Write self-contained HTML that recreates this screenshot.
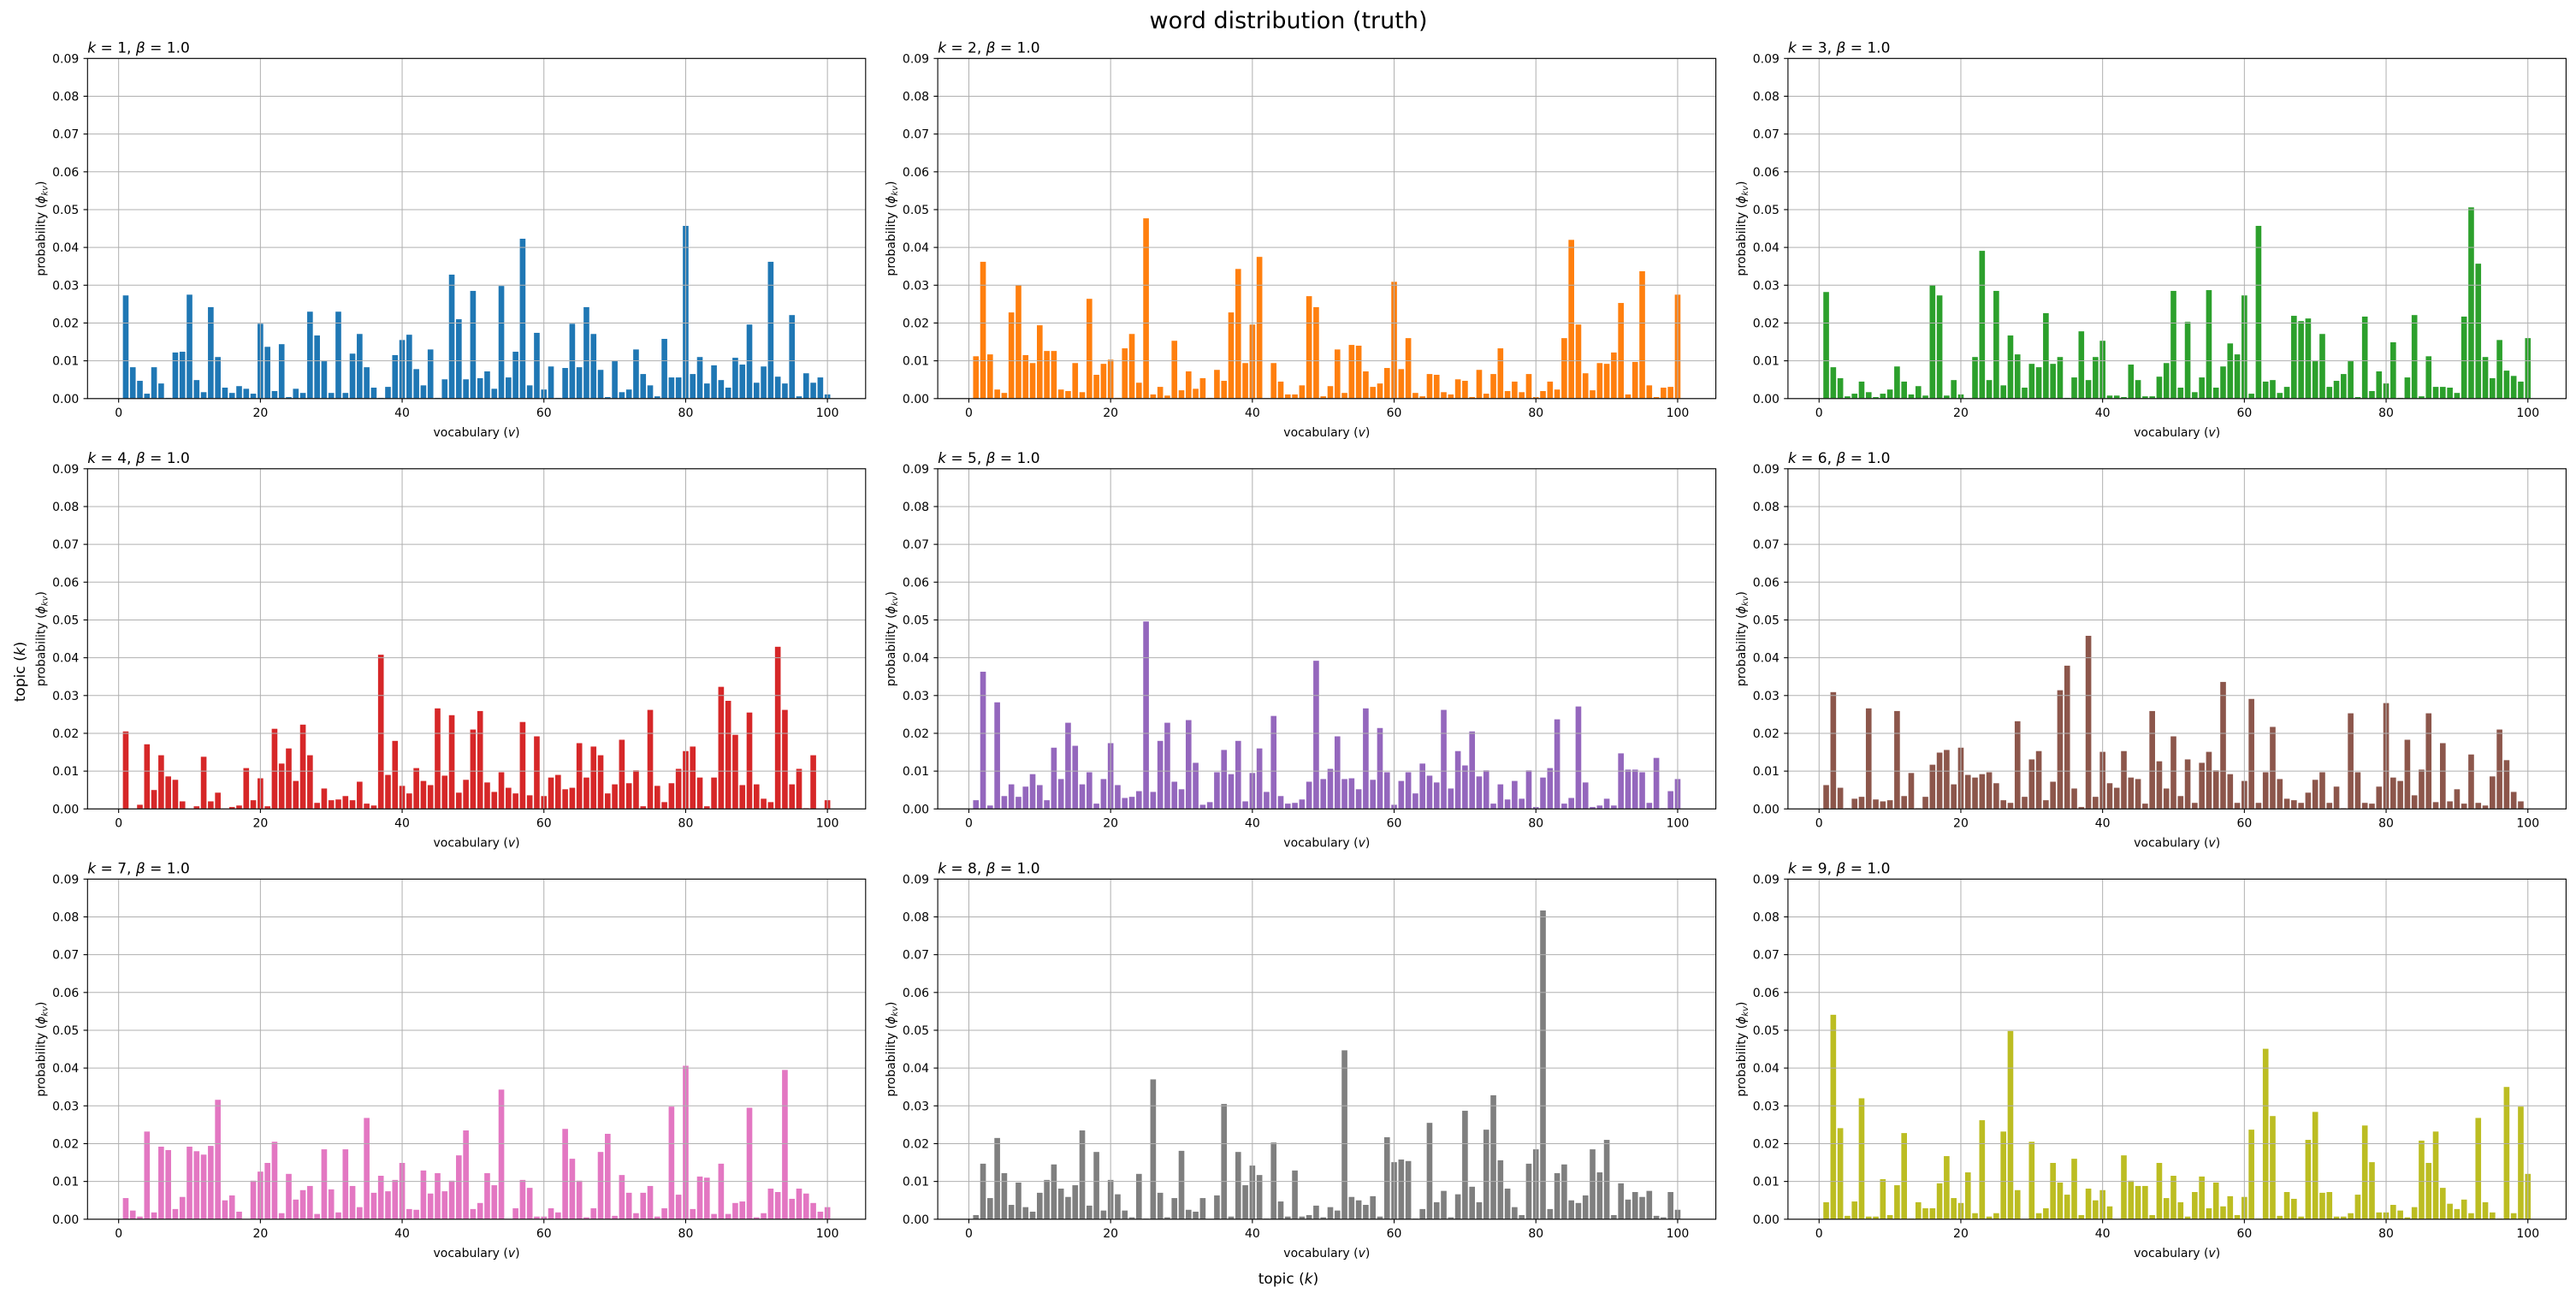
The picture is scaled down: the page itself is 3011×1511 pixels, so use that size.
<!DOCTYPE html>
<html>
<head>
<meta charset="utf-8">
<style>
html,body{margin:0;padding:0;background:#fff;}
svg{display:block;font-family:"DejaVu Sans","Liberation Sans",sans-serif;}
</style>
</head>
<body>
<svg id="fig" width="3011" height="1511" viewBox="0 0 3011 1511" xmlns="http://www.w3.org/2000/svg">
<rect x="0" y="0" width="3011" height="1511" fill="#ffffff"/>
<text x="1506" y="33" font-size="27" text-anchor="middle" fill="#000">word distribution (truth)</text>
<text x="1506" y="1500" font-size="17" text-anchor="middle" fill="#000">topic (<tspan font-style="italic">k</tspan>)</text>
<text x="0" y="0" font-size="17" text-anchor="middle" fill="#000" transform="translate(29,785) rotate(-90)">topic (<tspan font-style="italic">k</tspan>)</text>
<g id="panels"></g>
</svg>
<script>
const vocab = Array.from({length:100},(_,i)=>i+1);
const yTicks = [0,0.01,0.02,0.03,0.04,0.05,0.06,0.07,0.08,0.09];
const yTickLabels = ["0.00","0.01","0.02","0.03","0.04","0.05","0.06","0.07","0.08","0.09"];
const xTicks = [0,20,40,60,80,100];
const xTickLabels = ["0","20","40","60","80","100"];
const topicIds = [1,2,3,4,5,6,7,8,9];
const betaLabel = "1.0";
const colors = ["#1f77b4","#ff7f0e","#2ca02c","#d62728","#9467bd","#8c564b","#e377c2","#7f7f7f","#bcbd22"];

const p1 = [0.0273,0.0083,0.0047,0.0013,0.0083,0.004,0.0002,0.0122,0.0124,0.0275,0.0049,0.0017,0.0242,0.011,0.0029,0.0015,0.0033,0.0026,0.0013,0.0198,0.0137,0.002,0.0144,0.0004,0.0026,0.0015,0.023,0.0167,0.0099,0.0015,0.023,0.0015,0.0119,0.0171,0.0083,0.0029,0.0002,0.0031,0.0115,0.0155,0.0169,0.0078,0.0035,0.013,0.0002,0.0051,0.0328,0.021,0.0051,0.0285,0.0054,0.0072,0.0026,0.0298,0.0056,0.0124,0.0423,0.0035,0.0174,0.0024,0.0085,0.0002,0.0081,0.0198,0.0083,0.0242,0.0171,0.0076,0.0004,0.0099,0.0017,0.0024,0.013,0.0065,0.0035,0.0006,0.0158,0.0056,0.0056,0.0457,0.0065,0.011,0.004,0.0088,0.0049,0.0029,0.0108,0.009,0.0196,0.0042,0.0085,0.0362,0.0058,0.004,0.0221,0.0006,0.0067,0.0042,0.0056,0.0011];
const p2 = [0.0112,0.0362,0.0117,0.0024,0.0015,0.0228,0.030,0.0115,0.0094,0.0194,0.0126,0.0126,0.0024,0.002,0.0094,0.0017,0.0264,0.0063,0.0092,0.0103,0.0002,0.0133,0.0171,0.0042,0.0477,0.0011,0.0031,0.0008,0.0153,0.0022,0.0072,0.0026,0.0054,0.0002,0.0076,0.0047,0.0228,0.0343,0.0094,0.0196,0.0375,0.0001,0.0094,0.0045,0.0011,0.0011,0.0035,0.0271,0.0242,0.0006,0.0033,0.013,0.0015,0.0142,0.014,0.0072,0.0031,0.004,0.0081,0.0309,0.0078,0.016,0.0015,0.0006,0.0065,0.0063,0.0017,0.0011,0.0051,0.0047,0.0004,0.0076,0.0013,0.0065,0.0133,0.002,0.0045,0.0017,0.0065,0.0004,0.002,0.0045,0.0024,0.016,0.042,0.0196,0.0067,0.0022,0.0094,0.0092,0.0122,0.0253,0.0011,0.0097,0.0337,0.0035,0.0004,0.0029,0.0031,0.0275];
const p3 = [0.0282,0.0083,0.0054,0.0006,0.0013,0.0045,0.0017,0.0004,0.0013,0.0024,0.0085,0.0045,0.0011,0.0033,0.0008,0.030,0.0273,0.0008,0.0049,0.0011,0.0001,0.011,0.0391,0.0049,0.0285,0.0035,0.0167,0.0117,0.0029,0.0092,0.0083,0.0226,0.0092,0.011,0.0002,0.0056,0.0178,0.0049,0.011,0.0153,0.0008,0.0008,0.0004,0.009,0.0049,0.0006,0.0006,0.0058,0.0094,0.0285,0.0029,0.0203,0.0017,0.0056,0.0287,0.0029,0.0085,0.0146,0.0117,0.0273,0.0013,0.0457,0.0045,0.0049,0.0015,0.0031,0.0219,0.0205,0.0212,0.0099,0.0171,0.0031,0.0047,0.0065,0.0099,0.0004,0.0217,0.002,0.0072,0.004,0.0149,0.0002,0.0056,0.0221,0.0006,0.0112,0.0031,0.0031,0.0029,0.0015,0.0217,0.0506,0.0357,0.011,0.0054,0.0155,0.0074,0.006,0.0045,0.016];
const p4 = [0.0205,0.0001,0.0011,0.0171,0.005,0.0142,0.0086,0.0077,0.002,0.0001,0.0007,0.0138,0.002,0.0043,0.0001,0.0005,0.0009,0.0108,0.0023,0.0081,0.0007,0.0212,0.012,0.016,0.0074,0.0223,0.0142,0.0016,0.0054,0.0023,0.0025,0.0034,0.0023,0.0072,0.0014,0.0009,0.0408,0.009,0.018,0.0061,0.0041,0.0108,0.0074,0.0063,0.0266,0.0088,0.0248,0.0043,0.0077,0.021,0.0259,0.007,0.0045,0.0097,0.0056,0.0041,0.023,0.0036,0.0192,0.0034,0.0083,0.009,0.0052,0.0056,0.0174,0.0083,0.0165,0.0142,0.0041,0.0065,0.0183,0.0068,0.0102,0.0007,0.0262,0.0061,0.0018,0.0068,0.0106,0.0153,0.0165,0.0083,0.0007,0.0083,0.0323,0.0286,0.0196,0.0063,0.0255,0.0065,0.0027,0.0018,0.0429,0.0262,0.0065,0.0106,0.0002,0.0142,0.0001,0.0023];
const p5 = [0.0023,0.0363,0.0009,0.0282,0.0034,0.0065,0.0032,0.0059,0.0092,0.0063,0.0023,0.0162,0.0079,0.0228,0.0167,0.0065,0.0097,0.0014,0.0079,0.0174,0.0063,0.0029,0.0032,0.0047,0.0496,0.0045,0.018,0.0228,0.0072,0.0052,0.0235,0.0122,0.0011,0.0018,0.0097,0.0156,0.0092,0.018,0.002,0.0095,0.016,0.0045,0.0246,0.0034,0.0014,0.0016,0.0025,0.0072,0.0392,0.0079,0.0106,0.0192,0.0079,0.0081,0.0052,0.0266,0.0077,0.0214,0.0097,0.0011,0.0074,0.0097,0.0041,0.012,0.0088,0.007,0.0262,0.0054,0.0153,0.0115,0.0205,0.0086,0.0102,0.0014,0.0065,0.0025,0.0074,0.0027,0.0102,0.0005,0.0083,0.0108,0.0237,0.0014,0.0029,0.0271,0.007,0.0005,0.0009,0.0027,0.0009,0.0147,0.0104,0.0104,0.0097,0.0016,0.0135,0.0002,0.0047,0.0079];
const p6 = [0.0063,0.0309,0.0056,0.0002,0.0027,0.0032,0.0266,0.0025,0.002,0.0023,0.0259,0.0034,0.0095,0.0002,0.0032,0.0117,0.0149,0.0156,0.0065,0.0162,0.009,0.0083,0.0092,0.0097,0.0068,0.0023,0.0016,0.0232,0.0032,0.0131,0.0153,0.0023,0.0072,0.0314,0.0379,0.0054,0.0005,0.0458,0.0032,0.0151,0.0068,0.0056,0.0153,0.0083,0.0079,0.0014,0.0259,0.0126,0.0054,0.0192,0.0034,0.0131,0.0016,0.0122,0.0151,0.0102,0.0336,0.0092,0.0016,0.0074,0.0291,0.0016,0.0097,0.0217,0.0079,0.0027,0.0023,0.0016,0.0043,0.0077,0.0097,0.0016,0.0059,0.0002,0.0253,0.0097,0.0016,0.0014,0.0059,0.028,0.0083,0.0074,0.0183,0.0036,0.0104,0.0253,0.0018,0.0174,0.002,0.0052,0.0014,0.0144,0.0016,0.0009,0.0086,0.021,0.0129,0.0045,0.002,0.0001];
const p7 = [0.0056,0.0023,0.0007,0.0232,0.0018,0.0192,0.0183,0.0027,0.0059,0.0192,0.018,0.0171,0.0194,0.0316,0.005,0.0063,0.002,0.0001,0.0102,0.0126,0.0149,0.0205,0.0016,0.012,0.0052,0.0077,0.0088,0.0014,0.0185,0.0079,0.0018,0.0185,0.0088,0.0032,0.0268,0.007,0.0115,0.0074,0.0104,0.0149,0.0027,0.0025,0.0129,0.0068,0.0122,0.0074,0.0102,0.0169,0.0235,0.0027,0.0043,0.0122,0.009,0.0343,0.0001,0.0029,0.0104,0.0083,0.0007,0.0007,0.0029,0.0018,0.0239,0.016,0.0102,0.0005,0.0029,0.0178,0.0226,0.0009,0.0117,0.007,0.0016,0.007,0.0088,0.0007,0.0029,0.0298,0.0065,0.0406,0.0027,0.0113,0.011,0.0014,0.0147,0.0014,0.0043,0.0047,0.0295,0.0005,0.0016,0.0081,0.0072,0.0395,0.0054,0.0081,0.0068,0.0043,0.002,0.0032];
const p8 = [0.0011,0.0147,0.0056,0.0215,0.0122,0.0038,0.0097,0.0032,0.002,0.007,0.0104,0.0145,0.0081,0.0059,0.009,0.0235,0.0036,0.0178,0.0023,0.0104,0.0066,0.0023,0.0005,0.012,0.0002,0.037,0.007,0.0005,0.0056,0.0181,0.0025,0.002,0.0056,0.0001,0.0063,0.0305,0.0007,0.0178,0.009,0.0142,0.0117,0.0002,0.0203,0.0047,0.0007,0.0129,0.0007,0.0011,0.0036,0.0005,0.0032,0.0023,0.0447,0.0059,0.005,0.0038,0.0061,0.0007,0.0217,0.0151,0.0158,0.0154,0.0002,0.0027,0.0255,0.0045,0.0075,0.0005,0.0066,0.0287,0.0086,0.0045,0.0237,0.0328,0.0156,0.0081,0.0032,0.0011,0.0147,0.0185,0.0817,0.0027,0.0122,0.0145,0.005,0.0043,0.0063,0.0185,0.0124,0.021,0.0011,0.0095,0.0052,0.0072,0.0059,0.0075,0.0009,0.0005,0.0072,0.0025];
const p9 = [0.0045,0.0541,0.0241,0.0009,0.0047,0.032,0.0007,0.0007,0.0106,0.0011,0.009,0.0228,0.0002,0.0045,0.0029,0.0029,0.0095,0.0167,0.0056,0.0043,0.0124,0.0016,0.0262,0.0007,0.0016,0.0232,0.0498,0.0077,0.0001,0.0205,0.0016,0.0029,0.0149,0.0097,0.0065,0.016,0.0011,0.0081,0.005,0.0077,0.0034,0.0001,0.0169,0.0102,0.0088,0.0088,0.0011,0.0149,0.0056,0.0115,0.0045,0.0007,0.0072,0.0113,0.0029,0.0097,0.0034,0.0061,0.0011,0.0059,0.0237,0.0002,0.0451,0.0273,0.0009,0.0072,0.0054,0.0007,0.021,0.0284,0.007,0.0072,0.0007,0.0007,0.0016,0.0065,0.0248,0.0151,0.0018,0.0018,0.0038,0.0023,0.0005,0.0032,0.0208,0.0149,0.0232,0.0083,0.0041,0.0027,0.0052,0.0016,0.0268,0.0045,0.0018,0.0002,0.035,0.0016,0.0298,0.012];
const panelValues = [p1,p2,p3,p4,p5,p6,p7,p8,p9];

const NS = "http://www.w3.org/2000/svg";
const root = document.getElementById("panels");
const AX_LEFT0 = 102.3, AX_PITCH_X = 993.8, AX_W = 909.5;
const AX_TOP0 = 68.3, AX_PITCH_Y = 479.5, AX_H = 397.5;
const X_MIN = -4.39, X_MAX = 105.39, Y_MAX = 0.09;

function mk(tag, attrs, parent){
  const el = document.createElementNS(NS, tag);
  for (const k in attrs) el.setAttribute(k, attrs[k]);
  parent.appendChild(el);
  return el;
}

topicIds.forEach((k, idx) => {
  const col = idx % 3, row = Math.floor(idx / 3);
  const left = AX_LEFT0 + col * AX_PITCH_X;
  const top = AX_TOP0 + row * AX_PITCH_Y;
  const bottom = top + AX_H;
  const xs = v => left + (v - X_MIN) / (X_MAX - X_MIN) * AX_W;
  const ys = p => bottom - p / Y_MAX * AX_H;
  const vals = panelValues[idx];

  const g = mk("g", {}, root);
  
  

  const bg = mk("rect", {x:left, y:top, width:AX_W, height:AX_H, fill:"#fff"}, g);
  
  

  const barsG = mk("g", {}, g);
  
  
  const bw = 0.8 / (X_MAX - X_MIN) * AX_W;
  vocab.forEach((v, i) => {
    const y0 = ys(vals[i]);
    const r = mk("rect", {x:(xs(v) - bw/2).toFixed(2), y:y0.toFixed(2), width:bw.toFixed(2), height:(bottom - y0).toFixed(2), fill:colors[idx]}, barsG);
    
    
  });

  const gridG = mk("g", {}, g);
  
  
  xTicks.forEach((t) => {
    const x = xs(t);
    const l = mk("line", {x1:x, x2:x, y1:top, y2:bottom, stroke:"#b0b0b0", "stroke-width":1}, gridG);
    
    
  });
  yTicks.forEach((t) => {
    const y = ys(t);
    const l = mk("line", {x1:left, x2:left + AX_W, y1:y, y2:y, stroke:"#b0b0b0", "stroke-width":1}, gridG);
    
    
  });

  const frame = mk("rect", {x:left, y:top, width:AX_W, height:AX_H, fill:"none", stroke:"#000", "stroke-width":1.1}, g);
  
  

  const xAxis = mk("g", {}, g);
  
  
  xTicks.forEach((t, i) => {
    const x = xs(t);
    const tm = mk("line", {x1:x, x2:x, y1:bottom, y2:bottom + 4.7, stroke:"#000", "stroke-width":1.1}, xAxis);
    
    
    const tl = mk("text", {x:x, y:bottom + 21, "font-size":14, "text-anchor":"middle", fill:"#000"}, xAxis);
    tl.textContent = xTickLabels[i];
    
    
  });
  const xl = mk("text", {x:left + AX_W/2, y:bottom + 44, "font-size":14, "text-anchor":"middle", fill:"#000"}, xAxis);
  xl.innerHTML = 'vocabulary (<tspan font-style="italic">v</tspan>)';
  
  

  const yAxis = mk("g", {}, g);
  
  
  yTicks.forEach((t, i) => {
    const y = ys(t);
    const tm = mk("line", {x1:left - 4.7, x2:left, y1:y, y2:y, stroke:"#000", "stroke-width":1.1}, yAxis);
    
    
    const tl = mk("text", {x:left - 10, y:y + 5, "font-size":14, "text-anchor":"end", fill:"#000"}, yAxis);
    tl.textContent = yTickLabels[i];
    
    
  });
  const yl = mk("text", {x:0, y:0, "font-size":14, "text-anchor":"middle", fill:"#000", transform:"translate(" + (left - 50) + "," + (top + AX_H/2) + ") rotate(-90)"}, yAxis);
  yl.innerHTML = 'probability (<tspan font-style="italic">ϕ</tspan><tspan font-size="10" dy="3" font-style="italic">kv</tspan><tspan dy="-3">)</tspan>';
  
  

  const title = mk("text", {x:left, y:top - 7, "font-size":17, fill:"#000"}, g);
  title.innerHTML = '<tspan font-style="italic">k</tspan> = ' + k + ', <tspan font-style="italic">β</tspan> = ' + betaLabel;
  
  
});
</script>
</body>
</html>
